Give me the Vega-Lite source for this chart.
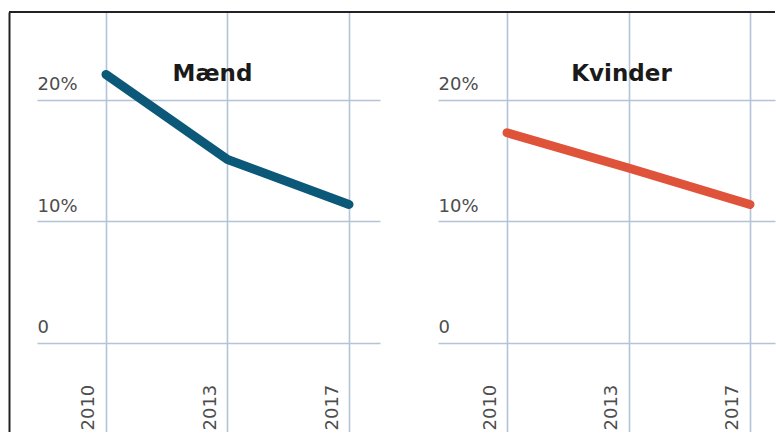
{
  "$schema": "https://vega.github.io/schema/vega-lite/v6.json",
  "padding": {"left": 8, "top": 11, "right": 0, "bottom": 0},
  "background": "white",
  "spacing": 0,
  "bounds": "flush",
  "data": {"values": [
    {"sex": "Mænd", "year": "2010", "share": 0.221},
    {"sex": "Mænd", "year": "2013", "share": 0.151},
    {"sex": "Mænd", "year": "2017", "share": 0.114},
    {"sex": "Kvinder", "year": "2010", "share": 0.173},
    {"sex": "Kvinder", "year": "2013", "share": 0.144},
    {"sex": "Kvinder", "year": "2017", "share": 0.114}
  ]},
  "config": {
    "view": {"stroke": null},
    "font": "DejaVu Sans",
    "axis": {
      "labelFont": "DejaVu Sans",
      "labelFontSize": 18,
      "labelColor": "#4d4d4d",
      "gridColor": "#b3c3d8",
      "gridWidth": 1.6,
      "ticks": false,
      "tickSize": 0,
      "title": null
    },
    "title": {"font": "DejaVu Sans", "fontSize": 23, "fontWeight": "bold", "color": "#1a1a1a", "anchor": "middle"}
  },
  "hconcat": [
    {
      "width": 399,
      "height": 420,
      "title": {"text": "Mænd", "offset": -75, "dx": 4},
      "transform": [{"filter": {"field": "sex", "equal": "Mænd"}}],
      "layer": [
        {
          "mark": {"type": "line", "color": "#0b5878", "strokeWidth": 9, "strokeCap": "round", "strokeJoin": "round"},
          "encoding": {
            "x": {"field": "year", "type": "ordinal", "sort": "ascending",
              "scale": {"type": "point", "range": [28, 371], "padding": 0.4115, "align": 0.69},
              "axis": {"title": null, "domain": false, "grid": true, "labelAngle": -90, "labelAlign": "left", "labelBaseline": "middle", "labelPadding": -2, "labelOffset": -17}},
            "y": {"field": "share", "type": "quantitative",
              "scale": {"domain": [-0.0733, 0.2724], "nice": false, "zero": false},
              "axis": {"title": null, "values": [0, 0.1, 0.2], "labelExpr": "datum.value == 0 ? '0' : format(datum.value, '.0%')", "grid": true, "domain": true, "domainColor": "#222222", "domainWidth": 2, "labelAlign": "left", "labelBaseline": "alphabetic", "labelPadding": -28, "labelOffset": -10}}
          }
        },
        {
          "mark": {"type": "rule", "color": "#222222", "strokeWidth": 2},
          "encoding": {"y": {"datum": 0.2724, "type": "quantitative"}}
        }
      ]
    },
    {
      "width": 367,
      "height": 420,
      "title": {"text": "Kvinder", "offset": -75, "dx": 30},
      "transform": [{"filter": {"field": "sex", "equal": "Kvinder"}}],
      "layer": [
        {
          "mark": {"type": "line", "color": "#e0533b", "strokeWidth": 9, "strokeCap": "round", "strokeJoin": "round"},
          "encoding": {
            "x": {"field": "year", "type": "ordinal", "sort": "ascending",
              "scale": {"type": "point", "range": [30, 367], "padding": 0.387, "align": 0.734},
              "axis": {"title": null, "domain": false, "grid": true, "labelAngle": -90, "labelAlign": "left", "labelBaseline": "middle", "labelPadding": -2, "labelOffset": -17}},
            "y": {"field": "share", "type": "quantitative",
              "scale": {"domain": [-0.0733, 0.2724], "nice": false, "zero": false},
              "axis": {"title": null, "values": [0, 0.1, 0.2], "labelExpr": "datum.value == 0 ? '0' : format(datum.value, '.0%')", "grid": true, "domain": false, "labelAlign": "left", "labelBaseline": "alphabetic", "labelPadding": -30, "labelOffset": -10}}
          }
        },
        {
          "mark": {"type": "rule", "color": "#222222", "strokeWidth": 2},
          "encoding": {"y": {"datum": 0.2724, "type": "quantitative"}}
        }
      ]
    }
  ]
}
